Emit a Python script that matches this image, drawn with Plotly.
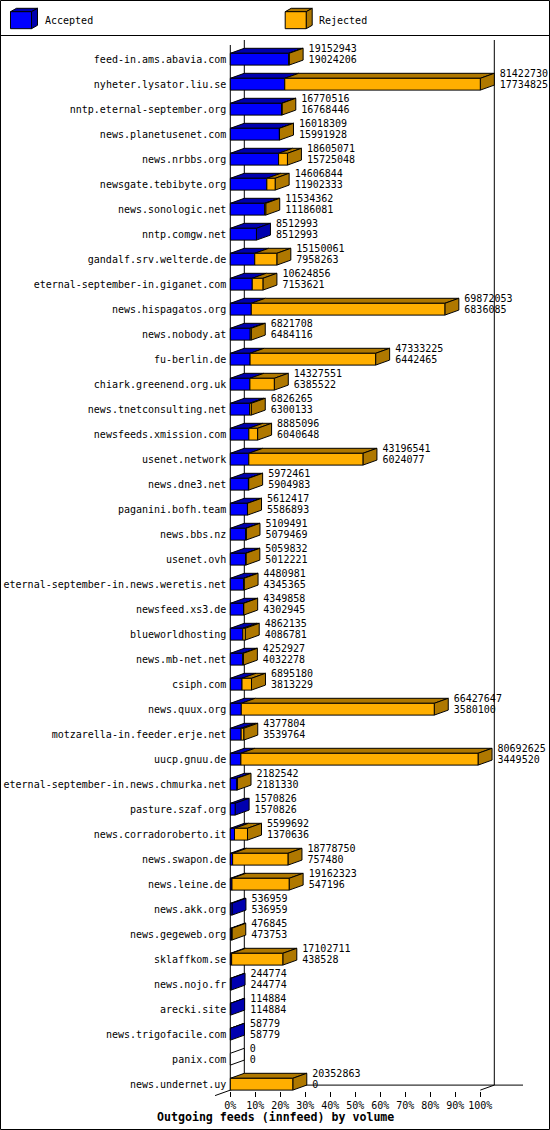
import plotly.graph_objects as go

# ---------------- data ----------------
names = [
    "feed-in.ams.abavia.com", "nyheter.lysator.liu.se", "nntp.eternal-september.org",
    "news.planetusenet.com", "news.nrbbs.org", "newsgate.tebibyte.org", "news.sonologic.net",
    "nntp.comgw.net", "gandalf.srv.welterde.de", "eternal-september-in.giganet.com",
    "news.hispagatos.org", "news.nobody.at", "fu-berlin.de", "chiark.greenend.org.uk",
    "news.tnetconsulting.net", "newsfeeds.xmission.com", "usenet.network", "news.dne3.net",
    "paganini.bofh.team", "news.bbs.nz", "usenet.ovh", "eternal-september-in.news.weretis.net",
    "newsfeed.xs3.de", "blueworldhosting", "news.mb-net.net", "csiph.com", "news.quux.org",
    "motzarella-in.feeder.erje.net", "uucp.gnuu.de", "eternal-september-in.news.chmurka.net",
    "pasture.szaf.org", "news.corradoroberto.it", "news.swapon.de", "news.leine.de",
    "news.akk.org", "news.gegeweb.org", "sklaffkom.se", "news.nojo.fr", "arecki.site",
    "news.trigofacile.com", "panix.com", "news.undernet.uy",
]
totals = [
    19152943, 81422730, 16770516, 16018309, 18605071, 14606844, 11534362, 8512993,
    15150061, 10624856, 69872053, 6821708, 47333225, 14327551, 6826265, 8885096,
    43196541, 5972461, 5612417, 5109491, 5059832, 4480981, 4349858, 4862135, 4252927,
    6895180, 66427647, 4377804, 80692625, 2182542, 1570826, 5599692, 18778750,
    19162323, 536959, 476845, 17102711, 244774, 114884, 58779, 0, 20352863,
]
accepted = [
    19024206, 17734825, 16768446, 15991928, 15725048, 11902333, 11186081, 8512993,
    7958263, 7153621, 6836085, 6484116, 6442465, 6385522, 6300133, 6040648,
    6024077, 5904983, 5586893, 5079469, 5012221, 4345365, 4302945, 4086781, 4032278,
    3813229, 3580100, 3539764, 3449520, 2181330, 1570826, 1370636, 757480,
    547196, 536959, 473753, 438528, 244774, 114884, 58779, 0, 0,
]
tick_pct = [0, 10, 20, 30, 40, 50, 60, 70, 80, 90, 100]
tick_labels = [f"{p}%" for p in tick_pct]
legend_names = ["Accepted", "Rejected"]
title_text = "Outgoing feeds (innfeed) by volume"

# ---------------- styling / geometry ----------------
W, H = 550, 1130
X0PX, PXPU = 230.3, 2.5          # pixel of 0 %, pixels per percent
Y0PX, ROWPX = 59.2, 25.0         # pixel of first row centre, row pitch
DX = 14 / PXPU                   # 3-D depth in x units
DY = 5 / ROWPX                   # 3-D depth in row units
HALF = 5.9 / ROWPX               # half height of the front face
BLUE, BLUE_D = "#0000FF", "#0000AF"
ORANGE, ORANGE_D = "#FFAF00", "#AF7800"
FONT = "DejaVu Sans Mono"

n = len(names)
vmax = max(totals)
pt = [t / vmax * 100 for t in totals]
pa = [a / vmax * 100 for a in accepted]


def poly_trace(polys, fill, width=1):
    xs, ys = [], []
    for p in polys:
        for (x, y) in p + [p[0]]:
            xs.append(x)
            ys.append(y)
        xs.append(None)
        ys.append(None)
    return go.Scatter(x=xs, y=ys, mode="lines", fill="toself", fillcolor=fill,
                      line=dict(color="black", width=width), hoverinfo="skip",
                      showlegend=False)


def line_trace(xs, ys):
    return go.Scatter(x=xs, y=ys, mode="lines", line=dict(color="black", width=1),
                      hoverinfo="skip", showlegend=False)


fig = go.Figure()

# walls / floor
top_back = -Y0PX / ROWPX + 40 / ROWPX
floor_front = (n - 1) + HALF
floor_back = floor_front - DY
fig.add_trace(line_trace([DX, DX], [top_back, floor_back]))                 # back-left edge
fig.add_trace(line_trace([0, 0], [top_back + DY, floor_front]))             # front-left edge
fig.add_trace(line_trace([100 + DX, 100 + DX], [top_back, floor_back]))     # right wall
fig.add_trace(line_trace([DX, (523 - X0PX) / PXPU], [floor_back, floor_back]))
fig.add_trace(line_trace([DX, -6.1], [floor_back, floor_front + DY * 1.1]))
fig.add_trace(line_trace([100, 100 + DX], [floor_front, floor_back]))

front_a, front_r, top_a, top_r, side_a, side_r, side_0 = [], [], [], [], [], [], []
for i in range(n):
    yt, yb = i - HALF, i + HALF
    a, t = pa[i], pt[i]
    if accepted[i] > 0:
        front_a.append([(0, yt), (a, yt), (a, yb), (0, yb)])
        top_a.append([(0, yt), (a, yt), (a + DX, yt - DY), (DX, yt - DY)])
    if totals[i] > accepted[i]:
        front_r.append([(a, yt), (t, yt), (t, yb), (a, yb)])
        top_r.append([(a, yt), (t, yt), (t + DX, yt - DY), (a + DX, yt - DY)])
    side = [(t, yt), (t, yb), (t + DX, yb - DY), (t + DX, yt - DY)]
    if totals[i] > accepted[i]:
        side_r.append(side)
    elif accepted[i] > 0:
        side_a.append(side)
    else:
        side_0.append(side)

for polys, col in [(top_a, BLUE_D), (top_r, ORANGE_D), (side_a, BLUE_D),
                   (side_r, ORANGE_D), (side_0, "white"),
                   (front_a, BLUE), (front_r, ORANGE)]:
    if polys:
        fig.add_trace(poly_trace(polys, col))

# value labels
lab_x = [t + DX + 2.2 for t in pt]
fig.add_trace(go.Scatter(x=lab_x, y=[i - 0.37 for i in range(n)], mode="text",
                         text=[str(v) for v in totals], textposition="middle right",
                         textfont=dict(family=FONT, size=10, color="black"),
                         cliponaxis=False, hoverinfo="skip", showlegend=False))
fig.add_trace(go.Scatter(x=lab_x, y=[i + 0.07 for i in range(n)], mode="text",
                         text=[str(v) for v in accepted], textposition="middle right",
                         textfont=dict(family=FONT, size=10, color="black"),
                         cliponaxis=False, hoverinfo="skip", showlegend=False))

# ---------------- layout ----------------
def px(xp):
    return xp / W


def py(yp):
    return 1 - yp / H


shapes = [
    dict(type="rect", xref="paper", yref="paper", x0=px(0.5), x1=px(549.5),
         y0=py(0.5), y1=py(1129.5), line=dict(color="black", width=1)),
    dict(type="line", xref="paper", yref="paper", x0=px(0), x1=px(550),
         y0=py(35.5), y1=py(35.5), line=dict(color="black", width=1)),
]
annotations = []
for lx, front, dark, name in [(10.5, BLUE, BLUE_D, legend_names[0]),
                              (285.2, ORANGE, ORANGE_D, legend_names[1])]:
    fw, fh, ddx, ddy, ty = 21, 17, 6, 3.4, 11.7
    fpts = [(lx, ty), (lx + fw, ty), (lx + fw, ty + fh), (lx, ty + fh)]
    tpts = [(lx, ty), (lx + fw, ty), (lx + fw + ddx, ty - ddy), (lx + ddx, ty - ddy)]
    spts = [(lx + fw, ty), (lx + fw, ty + fh), (lx + fw + ddx, ty + fh - ddy), (lx + fw + ddx, ty - ddy)]
    for pts, col in [(tpts, dark), (spts, dark), (fpts, front)]:
        path = "M " + " L ".join(f"{px(x):.5f},{py(y):.5f}" for x, y in pts) + " Z"
        shapes.append(dict(type="path", xref="paper", yref="paper", path=path,
                           fillcolor=col, line=dict(color="black", width=1)))
    annotations.append(dict(xref="paper", yref="paper", x=px(lx + 32), y=py(20.5),
                            text=name, showarrow=False, xanchor="left", yanchor="middle",
                            font=dict(family=FONT, size=10, color="black")))

annotations.append(dict(xref="paper", yref="paper", x=px(275), y=py(1117),
                        text=f"<b>{title_text}</b>", showarrow=False,
                        xanchor="center", yanchor="middle",
                        font=dict(family=FONT, size=11.6, color="black")))

fig.update_layout(
    width=W, height=H, margin=dict(l=0, r=0, t=0, b=0),
    paper_bgcolor="white", plot_bgcolor="white",
    shapes=shapes, annotations=annotations, showlegend=False,
    xaxis=dict(range=[-X0PX / PXPU, (W - X0PX) / PXPU], domain=[0, 1],
               anchor="free", position=1 - 1090.5 / H,
               tickmode="array", tickvals=tick_pct, ticktext=tick_labels,
               ticks="outside", ticklen=5, tickcolor="black", tickwidth=1,
               showline=False, showgrid=False, zeroline=False, automargin=False,
               tickfont=dict(family=FONT, size=10, color="black")),
    yaxis=dict(range=[(H - Y0PX) / ROWPX, -Y0PX / ROWPX], domain=[0, 1],
               anchor="free", position=X0PX / W, ticklabelstandoff=4,
               tickmode="array", tickvals=list(range(n)), ticktext=names,
               ticks="", showline=False, showgrid=False, zeroline=False,
               automargin=False,
               tickfont=dict(family=FONT, size=10, color="black")),
)

fig.write_html("out.html")
